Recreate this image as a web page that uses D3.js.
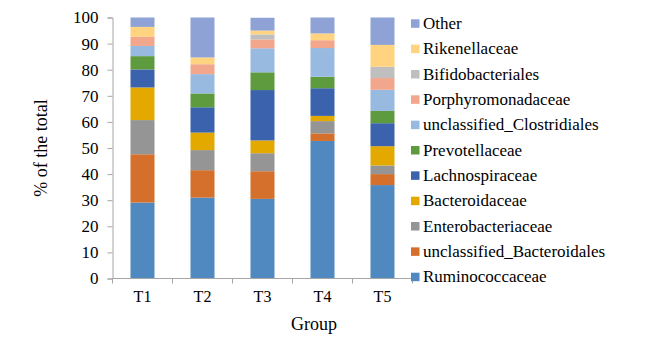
<!DOCTYPE html>
<html>
<head>
<meta charset="utf-8">
<style>
  body { margin: 0; background: #fff; }
  text { font-family: "Liberation Serif", "Times New Roman", serif; fill: #000; }
</style>
</head>
<body>
<script src="https://d3js.org/d3.v7.min.js"></script>
<script>

var width = 652,
    height = 341;

// data, % of the total
var groups = ["T1", "T2", "T3", "T4", "T5"];
var taxa = ["Ruminococcaceae", "unclassified_Bacteroidales", "Enterobacteriaceae",
            "Bacteroidaceae", "Lachnospiraceae", "Prevotellaceae",
            "unclassified_Clostridiales", "Porphyromonadaceae", "Bifidobacteriales",
            "Rikenellaceae", "Other"];
var ruminococcaceae    = [29.1, 31.0, 30.5, 52.7, 35.8];
var unclassBacteroidales = [18.5, 10.5, 10.6, 2.9, 4.2];
var enterobacteriaceae = [13.1, 7.7, 6.9, 4.7, 3.3];
var bacteroidaceae     = [12.5, 6.7, 4.9, 2.0, 7.4];
var lachnospiraceae    = [6.9, 9.7, 19.3, 10.6, 8.8];
var prevotellaceae     = [5.1, 5.3, 6.8, 4.4, 4.7];
var unclassClostridiales = [3.9, 7.4, 9.2, 11.0, 8.1];
var porphyromonadaceae = [3.5, 3.8, 3.4, 3.0, 4.5];
var bifidobacteriales  = [0, 0, 1.9, 0, 4.3];
var rikenellaceae      = [3.8, 2.6, 1.5, 2.6, 8.4];
var other              = [3.6, 15.3, 4.9, 6.1, 10.5];
var yTicks = [0, 10, 20, 30, 40, 50, 60, 70, 80, 90, 100];

var seriesValues = [ruminococcaceae, unclassBacteroidales, enterobacteriaceae,
  bacteroidaceae, lachnospiraceae, prevotellaceae, unclassClostridiales,
  porphyromonadaceae, bifidobacteriales, rikenellaceae, other];

var colors = ["#4F89BF", "#D4702B", "#959595", "#E3A900", "#3A62AD", "#5E9A3E",
              "#98B9E0", "#F2A68C", "#BFBFBF", "#FFD380", "#8FA2D6"];

var rows = groups.map(function(g, i) {
  var r = { group: g };
  taxa.forEach(function(t, j) { r[t] = seriesValues[j][i]; });
  return r;
});

var stacked = d3.stack().keys(taxa)(rows);

var svg = d3.select("body").append("svg")
    .attr("width", width)
    .attr("height", height);

var x = d3.scaleBand()
    .domain(groups)
    .range([112.5, 412.5])
    .paddingInner(0.6)
    .paddingOuter(0.3);

var y = d3.scaleLinear()
    .domain([0, 100])
    .range([278.5, 17.5]);

var color = d3.scaleOrdinal().domain(taxa).range(colors);

// BARS
svg.append("g")
  .selectAll("g")
  .data(stacked)
  .enter()
  .append("g")
    .attr("fill", function(d) { return color(d.key); })
  .selectAll("rect")
  .data(function(d) { return d; })
  .enter()
  .append("rect")
    .attr("x", function(d) { return x(d.data.group); })
    .attr("width", x.bandwidth())
    .attr("y", function(d) { return y(d[1]); })
    .attr("height", function(d) { return y(d[0]) - y(d[1]); });

// Y AXIS
var yAxis = svg.append("g")
    .attr("transform", "translate(112.5,0)")
    .call(d3.axisLeft(y).tickValues(yTicks).tickSize(5).tickPadding(9));
yAxis.select(".domain").attr("stroke", "#a6a6a6");
yAxis.selectAll(".tick line").attr("stroke", "#a6a6a6");
yAxis.selectAll(".tick text")
    .style("font-size", "17px")
    .attr("fill", "#000");

// X AXIS
var xAxis = svg.append("g").attr("transform", "translate(0,278.5)");
xAxis.append("line")
    .attr("x1", 112.5).attr("x2", 412.5)
    .attr("stroke", "#a6a6a6");
xAxis.selectAll("line.tk")
  .data(d3.range(groups.length + 1))
  .enter()
  .append("line")
    .attr("class", "tk")
    .attr("x1", function(i) { return 112.5 + i * x.step(); })
    .attr("x2", function(i) { return 112.5 + i * x.step(); })
    .attr("y1", 0).attr("y2", 5)
    .attr("stroke", "#a6a6a6");
xAxis.selectAll("text")
  .data(groups)
  .enter()
  .append("text")
    .attr("x", function(d) { return x(d) + x.bandwidth() / 2; })
    .attr("y", 23.5)
    .attr("text-anchor", "middle")
    .style("font-size", "16px")
    .text(function(d) { return d; });

// AXIS TITLES
svg.append("text")
    .attr("x", 314).attr("y", 330)
    .attr("text-anchor", "middle")
    .style("font-size", "18px")
    .text("Group");

svg.append("text")
    .attr("transform", "translate(47,148) rotate(-90)")
    .attr("text-anchor", "middle")
    .style("font-size", "18px")
    .text("% of the total");

// LEGEND (reverse order, Other at top)
var legend = svg.append("g")
  .selectAll("g")
  .data(taxa.slice().reverse())
  .enter()
  .append("g")
    .attr("transform", function(d, i) { return "translate(411," + (23.3 + i * 25.34) + ")"; });
legend.append("rect")
    .attr("x", 0).attr("y", -4)
    .attr("width", 8.5).attr("height", 8.5)
    .attr("fill", function(d) { return color(d); });
legend.append("text")
    .attr("x", 12).attr("y", 5.7)
    .style("font-size", "17px")
    .text(function(d) { return d; });

</script>
</body>
</html>
